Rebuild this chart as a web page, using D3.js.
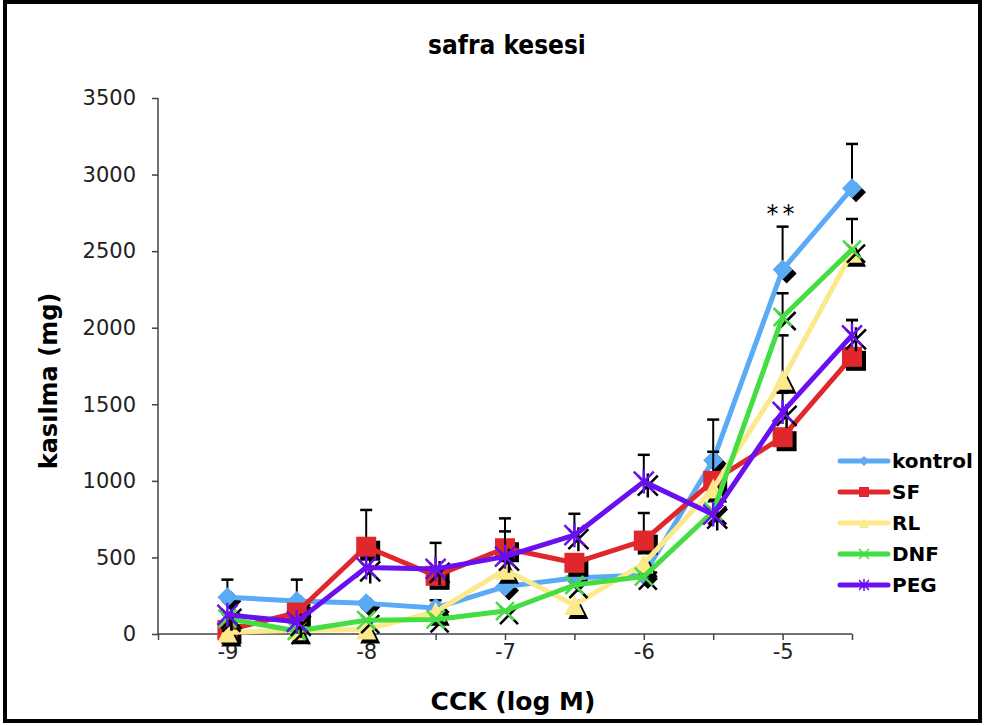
<!DOCTYPE html>
<html>
<head>
<meta charset="utf-8">
<script src="https://cdn.jsdelivr.net/npm/d3@7"></script>
<style>
  body { margin: 0; background: #fff; }
  #chart { width: 985px; height: 726px; }
</style>
</head>
<body>
<div id="chart"></div>
<script>
// x categories (log M)
var doses = [-9, -8.5, -8, -7.5, -7, -6.5, -6, -5.5, -5, -4.5];
var xTickLabels = [-9, -8, -7, -6, -5];
var yTicks = [0, 500, 1000, 1500, 2000, 2500, 3000, 3500];

var kontrol = [240, 215, 200, 170, 310, 365, 385, 1135, 2380, 2910];
var kontrolErr = [115, 140, 0, 50, 0, 0, 0, 265, 280, 290];
var sf = [25, 140, 570, 380, 560, 465, 610, 1000, 1285, 1810];
var sfErr = [0, 0, 240, 215, 195, 0, 180, 190, 0, 240];
var rl = [10, 25, 30, 145, 420, 190, 460, 950, 1660, 2490];
var rlErr = [0, 0, 0, 0, 0, 0, 0, 0, 290, 220];
var dnf = [100, 20, 90, 95, 150, 320, 375, 800, 2070, 2510];
var dnfErr = [0, 0, 0, 0, 0, 0, 0, 0, 155, 0];
var peg = [125, 80, 435, 425, 505, 645, 995, 780, 1450, 1950];
var pegErr = [0, 0, 0, 0, 165, 140, 175, 0, 125, 100];

var seriesNames = ["kontrol", "SF", "RL", "DNF", "PEG"];
var seriesColors = ["#5aaaf6", "#e0282c", "#fbe98c", "#44dd44", "#6a10f0"];
var seriesMarkers = ["diamond", "square", "triangle", "x", "star"];

var series = [
    { name: seriesNames[0], vals: kontrol, err: kontrolErr },
    { name: seriesNames[1], vals: sf, err: sfErr },
    { name: seriesNames[2], vals: rl, err: rlErr },
    { name: seriesNames[3], vals: dnf, err: dnfErr },
    { name: seriesNames[4], vals: peg, err: pegErr }
];

function draw_chart() {
    const W = 985, H = 726;
    const LEFT = 158, RIGHT = 852, TOP = 98, BOTTOM = 634;
    const SHADOW = 4;

    var svg = d3.select("#chart").append("svg")
        .attr("width", W)
        .attr("height", H);

    svg.append("rect")
        .attr("x", 5).attr("y", 2)
        .attr("width", 975).attr("height", 719)
        .attr("fill", "#fff")
        .attr("stroke", "#000")
        .attr("stroke-width", 4);

    var x = d3.scaleLinear().domain([-9.5, -4.5]).range([LEFT, RIGHT]);
    var y = d3.scaleLinear().domain([0, 3500]).range([BOTTOM, TOP]);

    // axes
    var yAxis = svg.append("g")
        .attr("transform", "translate(" + LEFT + ",0)")
        .call(d3.axisLeft(y).tickValues(yTicks).tickSize(6).tickPadding(16).tickFormat(d3.format("d")));
    yAxis.selectAll("text")
        .attr("font-family", "DejaVu Sans, Verdana, sans-serif")
        .attr("font-size", 21)
        .attr("fill", "#222");

    var xAxis = svg.append("g")
        .attr("transform", "translate(0," + BOTTOM + ")")
        .call(d3.axisBottom(x)
            .tickValues(d3.range(-9.5, -4.4, 0.5))
            .tickSize(6)
            .tickPadding(4)
            .tickFormat(function (d) { return xTickLabels.indexOf(d) >= 0 ? d : ""; }));
    xAxis.selectAll("text")
        .attr("font-family", "DejaVu Sans, Verdana, sans-serif")
        .attr("font-size", 21)
        .attr("fill", "#222");

    svg.selectAll(".domain, .tick line")
        .attr("stroke", "#444")
        .attr("stroke-width", 1.5);
    yAxis.select(".domain").attr("d", "M0," + TOP + "V" + BOTTOM);
    xAxis.select(".domain").attr("d", "M" + LEFT + ",0H" + RIGHT);

    // titles
    svg.append("text")
        .attr("x", 507).attr("y", 54)
        .attr("text-anchor", "middle")
        .attr("font-family", "DejaVu Sans Condensed, DejaVu Sans, sans-serif")
        .attr("font-weight", "bold")
        .attr("font-size", 26)
        .text("safra kesesi");

    svg.append("text")
        .attr("x", 513).attr("y", 710)
        .attr("text-anchor", "middle")
        .attr("font-family", "DejaVu Sans, sans-serif")
        .attr("font-weight", "bold")
        .attr("font-size", 25)
        .text("CCK (log M)");

    svg.append("text")
        .attr("transform", "translate(57,381) rotate(-90)")
        .attr("text-anchor", "middle")
        .attr("font-family", "DejaVu Sans, sans-serif")
        .attr("font-weight", "bold")
        .attr("font-size", 24)
        .text("kasılma (mg)");

    function markerPath(type, s) {
        var h = s / 2;
        if (type == "diamond") return "M0," + (-h) + "L" + h + ",0L0," + h + "L" + (-h) + ",0Z";
        if (type == "square") return "M" + (-h) + "," + (-h) + "H" + h + "V" + h + "H" + (-h) + "Z";
        if (type == "triangle") return "M0," + (-h) + "L" + h + "," + h + "L" + (-h) + "," + h + "Z";
        if (type == "x") return "M" + (-h) + "," + (-h) + "L" + h + "," + h + "M" + h + "," + (-h) + "L" + (-h) + "," + h;
        // star = x plus vertical bar
        return "M" + (-h) + "," + (-h) + "L" + h + "," + h + "M" + h + "," + (-h) + "L" + (-h) + "," + h +
            "M0," + (-h * 1.2) + "V" + (h * 1.2);
    }
    var markerSize = { diamond: 20, square: 20, triangle: 20, x: 18, star: 20 };

    var line = d3.line()
        .x(function (d, i) { return x(doses[i]); })
        .y(function (d) { return y(d); });

    series.forEach(function (s, k) {
        var color = seriesColors[k];
        var type = seriesMarkers[k];
        var g = svg.append("g");
        var stroked = (type == "x" || type == "star");

        // error bars (plus direction)
        var eb = g.selectAll(".err")
            .data(s.vals.map(function (v, i) { return { i: i, v: v, e: s.err[i] }; })
                .filter(function (d) { return d.e > 0; }))
            .enter().append("g");
        eb.append("line")
            .attr("x1", function (d) { return x(doses[d.i]); })
            .attr("x2", function (d) { return x(doses[d.i]); })
            .attr("y1", function (d) { return y(d.v); })
            .attr("y2", function (d) { return y(d.v + d.e); })
            .attr("stroke", "#000").attr("stroke-width", 2);
        eb.append("line")
            .attr("x1", function (d) { return x(doses[d.i]) - 6; })
            .attr("x2", function (d) { return x(doses[d.i]) + 6; })
            .attr("y1", function (d) { return y(d.v + d.e); })
            .attr("y2", function (d) { return y(d.v + d.e); })
            .attr("stroke", "#000").attr("stroke-width", 2.5);

        // shadow markers
        g.selectAll(".shadow")
            .data(s.vals).enter().append("path")
            .attr("transform", function (d, i) {
                return "translate(" + (x(doses[i]) + SHADOW) + "," + (y(d) + SHADOW) + ")";
            })
            .attr("d", markerPath(type, markerSize[type]))
            .attr("fill", stroked ? "none" : "#000")
            .attr("stroke", "#000")
            .attr("stroke-width", stroked ? 2.5 : 0);

        g.append("path")
            .attr("d", line(s.vals))
            .attr("fill", "none")
            .attr("stroke", color)
            .attr("stroke-width", 5)
            .attr("stroke-linejoin", "round");

        g.selectAll(".mark")
            .data(s.vals).enter().append("path")
            .attr("transform", function (d, i) {
                return "translate(" + x(doses[i]) + "," + y(d) + ")";
            })
            .attr("d", markerPath(type, markerSize[type]))
            .attr("fill", stroked ? "none" : color)
            .attr("stroke", color)
            .attr("stroke-width", stroked ? 2.5 : 0);
    });

    // significance mark
    svg.append("text")
        .attr("x", x(-5)).attr("y", 222)
        .attr("text-anchor", "middle")
        .attr("font-family", "DejaVu Sans, sans-serif")
        .attr("font-size", 24)
        .attr("letter-spacing", 4)
        .text("**");

    // legend
    var legend = svg.append("g").attr("transform", "translate(840,461)");
    seriesNames.forEach(function (name, k) {
        var row = legend.append("g").attr("transform", "translate(0," + (k * 31) + ")");
        row.append("line")
            .attr("x1", 0).attr("x2", 48)
            .attr("stroke", seriesColors[k])
            .attr("stroke-width", 5)
            .attr("stroke-linecap", "round");
        var type = seriesMarkers[k];
        var stroked = (type == "x" || type == "star");
        row.append("path")
            .attr("transform", "translate(24,0)")
            .attr("d", markerPath(type, 10))
            .attr("fill", stroked ? "none" : seriesColors[k])
            .attr("stroke", seriesColors[k])
            .attr("stroke-width", stroked ? 1.5 : 0);
        row.append("text")
            .attr("x", 52).attr("y", 7)
            .attr("font-family", "DejaVu Sans, sans-serif")
            .attr("font-weight", "bold")
            .attr("font-size", 20)
            .text(name);
    });
}

draw_chart();
</script>
</body>
</html>
